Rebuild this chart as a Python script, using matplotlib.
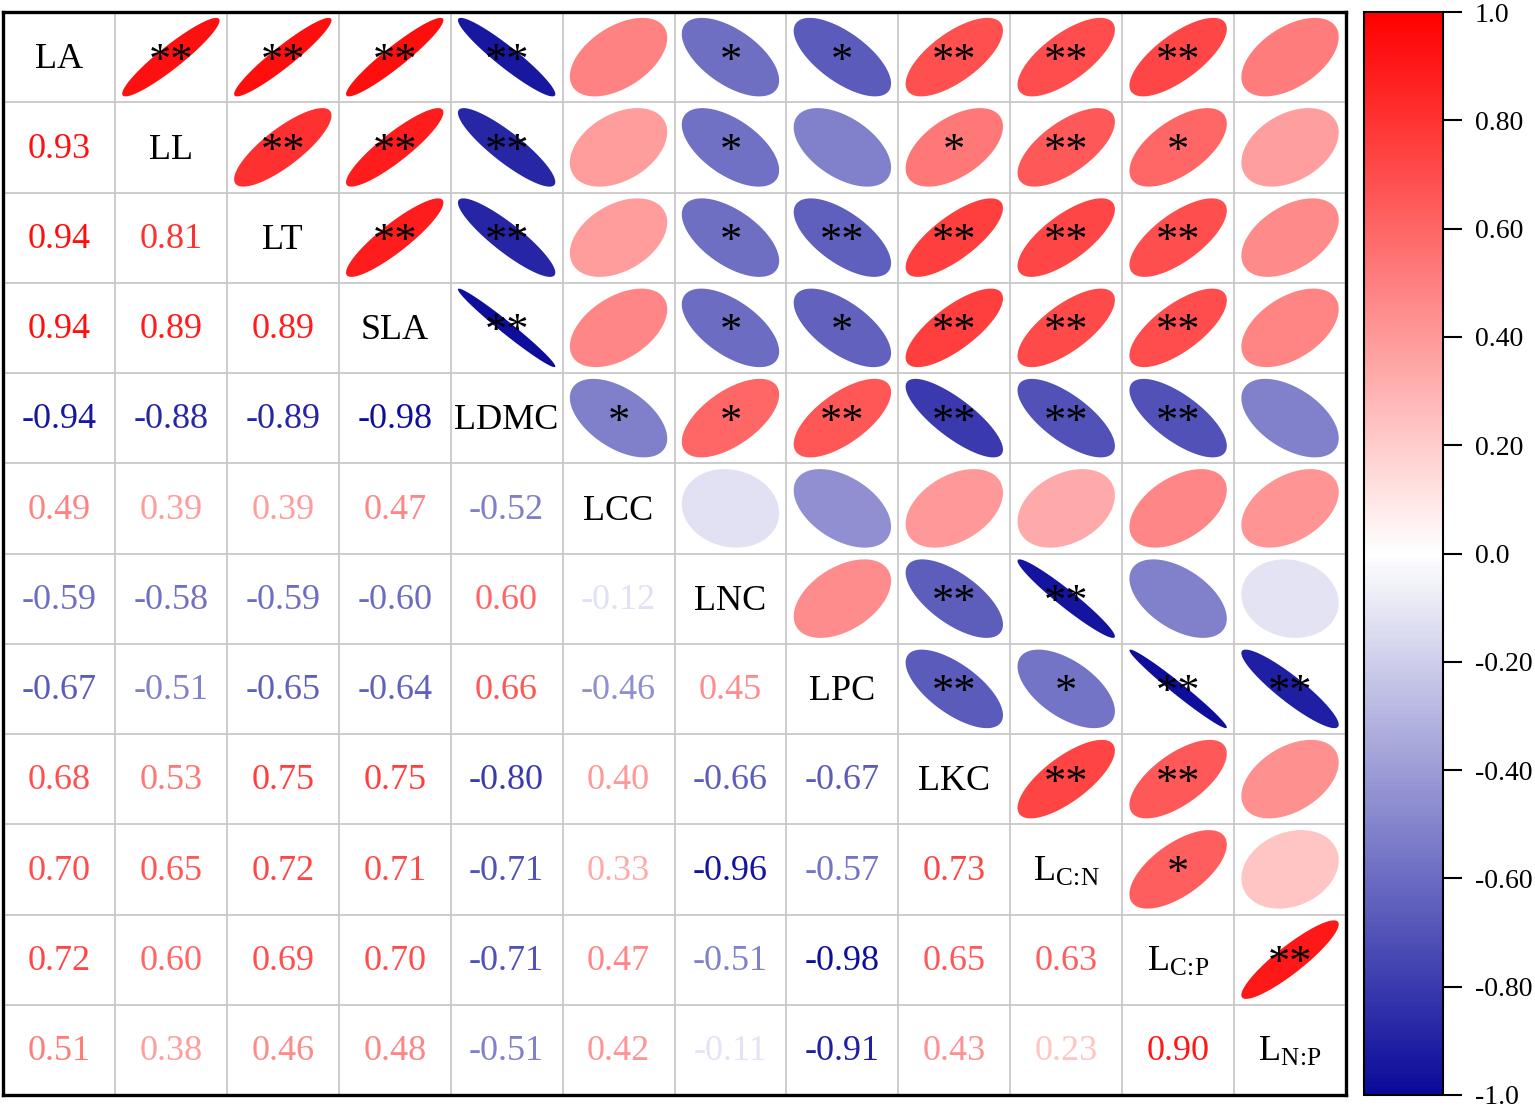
import numpy as np
import matplotlib
matplotlib.use("Agg")
import matplotlib.pyplot as plt
from matplotlib.colors import LinearSegmentedColormap, Normalize
from matplotlib.cm import ScalarMappable
from matplotlib.patches import Polygon

plt.rcParams["font.family"] = ["Liberation Serif", "DejaVu Serif"]
plt.rcParams["mathtext.fontset"] = "custom"
plt.rcParams["mathtext.rm"] = "Liberation Serif"
plt.rcParams["mathtext.it"] = "Liberation Serif:italic"

# trait names (diagonal)
names = ["LA", "LL", "LT", "SLA", "LDMC", "LCC", "LNC", "LPC", "LKC",
         r"L$_{\mathrm{C\!:\!N}}$", r"L$_{\mathrm{C\!:\!P}}$", r"L$_{\mathrm{N\!:\!P}}$"]

# lower triangle correlations, row by row
lower = [
    [],
    [0.93],
    [0.94, 0.81],
    [0.94, 0.89, 0.89],
    [-0.94, -0.88, -0.89, -0.98],
    [0.49, 0.39, 0.39, 0.47, -0.52],
    [-0.59, -0.58, -0.59, -0.60, 0.60, -0.12],
    [-0.67, -0.51, -0.65, -0.64, 0.66, -0.46, 0.45],
    [0.68, 0.53, 0.75, 0.75, -0.80, 0.40, -0.66, -0.67],
    [0.70, 0.65, 0.72, 0.71, -0.71, 0.33, -0.96, -0.57, 0.73],
    [0.72, 0.60, 0.69, 0.70, -0.71, 0.47, -0.51, -0.98, 0.65, 0.63],
    [0.51, 0.38, 0.46, 0.48, -0.51, 0.42, -0.11, -0.91, 0.43, 0.23, 0.90],
]

# significance marks for the upper triangle, row by row (columns right of diagonal)
stars = [
    ["**", "**", "**", "**", "", "*", "*", "**", "**", "**", ""],
    ["**", "**", "**", "", "*", "", "*", "**", "*", ""],
    ["**", "**", "", "*", "**", "**", "**", "**", ""],
    ["**", "", "*", "*", "**", "**", "**", ""],
    ["*", "*", "**", "**", "**", "**", ""],
    ["", "", "", "", "", ""],
    ["", "**", "**", "", ""],
    ["**", "*", "**", "**"],
    ["**", "**", ""],
    ["*", ""],
    ["**"],
    [],
]

cbar_ticks = [1.0, 0.8, 0.6, 0.4, 0.2, 0.0, -0.2, -0.4, -0.6, -0.8, -1.0]
cbar_labels = ["1.0", "0.80", "0.60", "0.40", "0.20", "0.0",
               "-0.20", "-0.40", "-0.60", "-0.80", "-1.0"]

n = len(names)
corr = np.eye(n)
for i, row in enumerate(lower):
    for j, v in enumerate(row):
        corr[i, j] = v
        corr[j, i] = v

cmap = LinearSegmentedColormap.from_list("bwr_dark", ["#0a0a9a", "#ffffff", "#ff0000"])
norm = Normalize(-1, 1)

W, H = 1535, 1107
fig = plt.figure(figsize=(W / 100, H / 100), dpi=100)
fig.patch.set_facecolor("white")
ax = fig.add_axes([3 / W, 1 - 1095 / H, 1343 / W, 1083 / H])
ax.set_xlim(0, n)
ax.set_ylim(n, 0)
ax.set_xticks([])
ax.set_yticks([])
for s in ax.spines.values():
    s.set_linewidth(2.4)
    s.set_color("black")
for k in range(1, n):
    ax.axhline(k, color="#c8c8c8", lw=1.3, zorder=1)
    ax.axvline(k, color="#c8c8c8", lw=1.3, zorder=1)

FS = 26
t = np.linspace(0, 2 * np.pi, 200)
scale = 0.87
for i in range(n):
    for j in range(n):
        cx, cy = j + 0.5, i + 0.5
        r = corr[i, j]
        if i == j:
            ax.text(cx, cy + 0.03, names[i], ha="center", va="center", fontsize=FS,
                    color="black")
        elif j < i:
            ax.text(cx, cy + 0.02, f"{r:.2f}", ha="center", va="center", fontsize=FS,
                    color=cmap(norm(r)))
        else:
            d = np.arccos(r)
            px = cx + 0.5 * scale * np.cos(t + d / 2)
            py = cy - 0.5 * scale * np.cos(t - d / 2)
            ax.add_patch(Polygon(np.column_stack([px, py]), closed=True,
                                 facecolor=cmap(norm(r)), edgecolor="none", zorder=2))
            mark = stars[i][j - i - 1]
            if mark:
                ax.text(cx, cy + 0.05, mark, ha="center", va="center", fontsize=32,
                        color="black", zorder=3)

cax = fig.add_axes([1364 / W, 1 - 1095 / H, 79 / W, 1083 / H])
cb = fig.colorbar(ScalarMappable(norm=norm, cmap=cmap), cax=cax)
cb.set_ticks(cbar_ticks)
cb.set_ticklabels(cbar_labels)
cb.outline.set_linewidth(1.5)
cb.outline.set_edgecolor("black")
cax.tick_params(axis="y", direction="out", length=14, width=1.5, pad=9,
                labelsize=20, colors="black")

fig.savefig("out.png", dpi=100, facecolor="white")
